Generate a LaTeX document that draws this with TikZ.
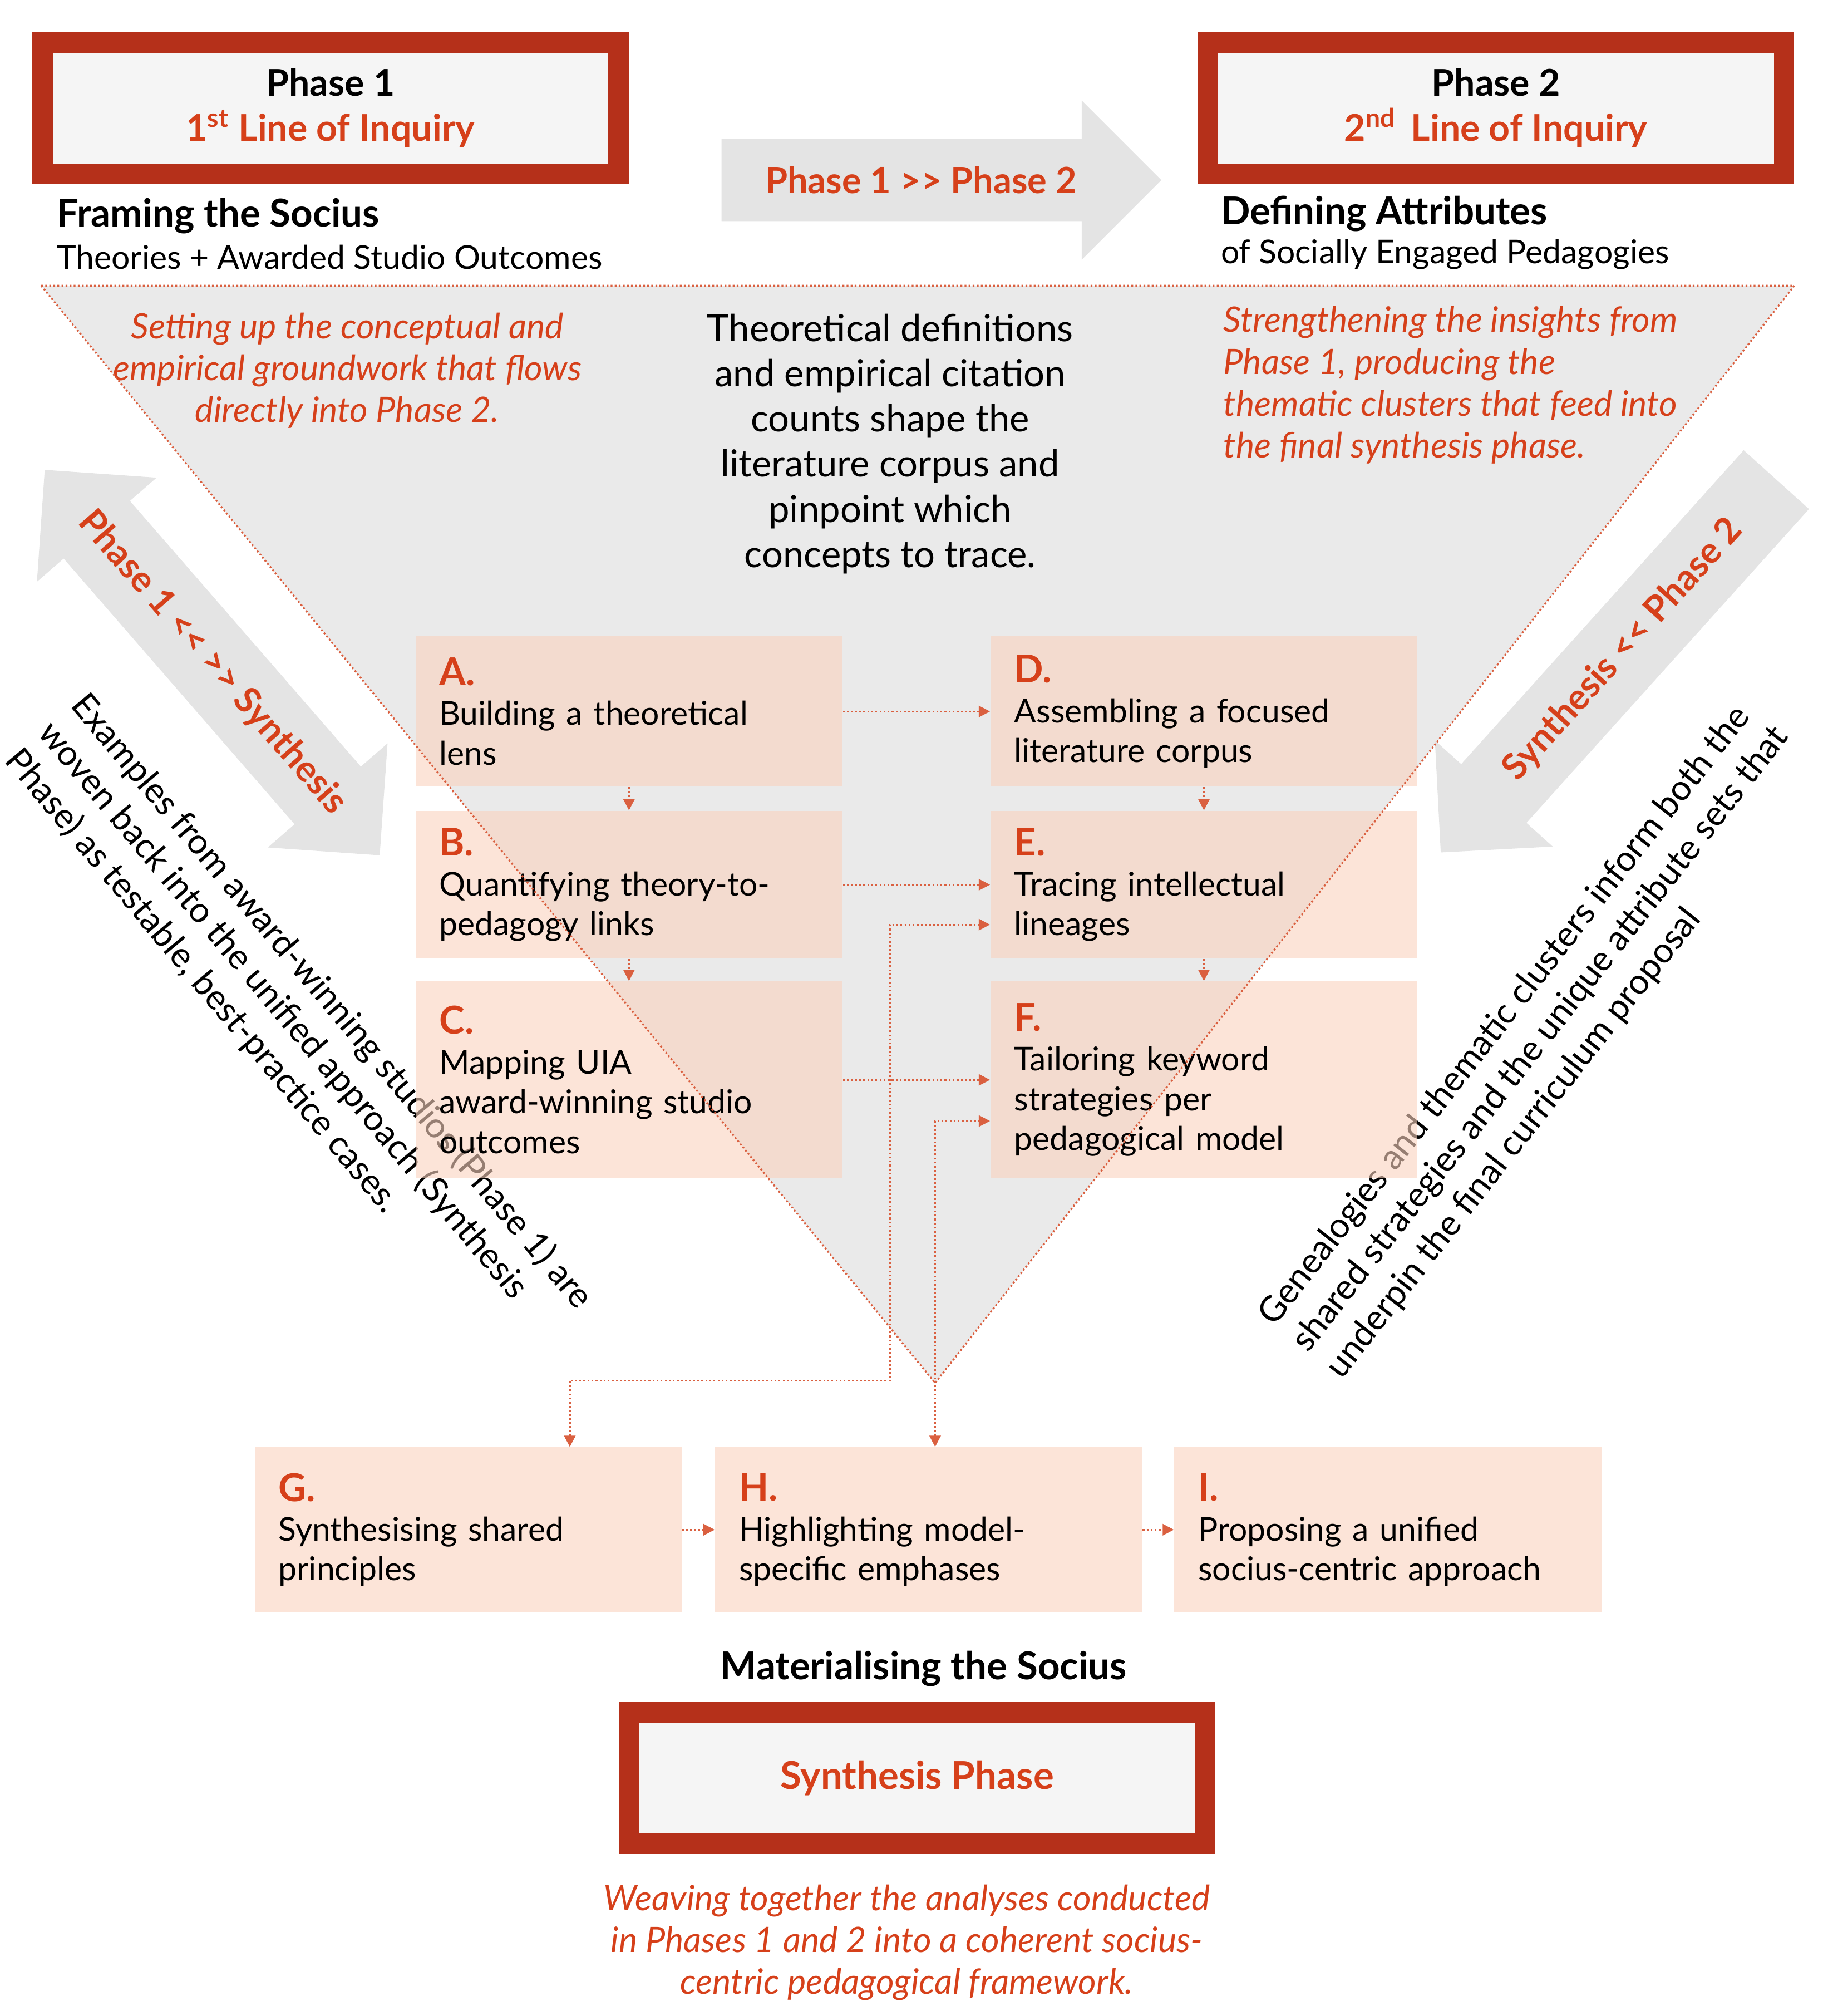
\documentclass[tikz,border=0pt]{standalone}
\usepackage{fontspec}
\setmainfont{Lato}
\usetikzlibrary{positioning,calc,shapes.arrows,arrows.meta}
\definecolor{framered}{RGB}{181,48,26}
\definecolor{inkred}{RGB}{214,64,26}
\definecolor{linkred}{RGB}{218,96,64}
\definecolor{panegray}{RGB}{234,234,234}
\definecolor{arrowgray}{RGB}{228,228,228}
\definecolor{boxpeach}{RGB}{250,210,190}
\tikzset{
>={Triangle[length=5pt,width=5pt]},
every node/.style={font=\fontsize{14.5}{17.6}\selectfont},
phase/.style={draw=framered, line width=9pt, fill=gray!8, minimum width=8.96cm, minimum height=2.04cm, align=center, font=\fontsize{16.3}{20}\selectfont\bfseries},
link/.style={->, linkred, densely dotted, thick},
bigarrow/.style={fill=arrowgray, inner xsep=0pt, inner ysep=0.42cm, text=inkred, font=\fontsize{16}{18}\selectfont\bfseries},
note/.style={text=inkred, align=left, font=\fontsize{15.5}{18.5}\selectfont\itshape},
}

\begin{document}
\begin{tikzpicture}
        [x=0.02cm, y=-0.02cm,
        block/.style={fill=boxpeach, fill opacity=0.6, text opacity=1, minimum width=6.64cm, text width=5.9cm, align=left, inner sep=0pt},
        letter/.style={text=inkred, font=\fontsize{17}{20}\selectfont\bfseries}
        ]
        \useasboundingbox (0,0) rectangle (1421,1567);

        % triangle pane
        \fill[panegray] (32,222) -- (1395,222) -- (727,1075) -- cycle;

        % phase frames
        \node [phase] (p1) at (257,84) {Phase 1\\ \textcolor{inkred}{1\textsuperscript{st} Line of Inquiry}};
        \node [phase] (p2) at (1163,84) {Phase 2\\ \textcolor{inkred}{2\textsuperscript{nd}\, Line of Inquiry}};
        \node [phase, font=\fontsize{17}{20}\selectfont\bfseries] (ps) at (713,1382) {\textcolor{inkred}{Synthesis Phase}};

        % gray arrows
        \node [bigarrow, single arrow, single arrow head extend=0.6cm, single arrow head indent=0pt, minimum height=6.84cm] (fwd) at (716,140) {Phase 1 {>}{>} Phase 2};
        \node [bigarrow, double arrow, double arrow head extend=0.55cm, minimum height=7.94cm, rotate=-49] (loop) at (165,515) {Phase 1 {<}{<} {>}{>} Synthesis};
        \node [bigarrow, single arrow, shape border rotate=180, single arrow head extend=0.55cm, single arrow head indent=0pt, minimum height=7.8cm, rotate=48] (back) at (1262,505) {Synthesis {<}{<} Phase 2};

        % headings
        \node [anchor=west, font=\fontsize{17}{20}\selectfont\bfseries] (frm) at (38,168) {Framing the Socius};
        \node [anchor=west] (frs) at (38,200) {Theories + Awarded Studio Outcomes};
        \node [anchor=west, font=\fontsize{17}{20}\selectfont\bfseries] (def) at (943,166) {Defining Attributes};
        \node [anchor=west] (dfs) at (943,198) {of Socially Engaged Pedagogies};
        \node [font=\fontsize{17}{20}\selectfont\bfseries] (mat) at (718,1297) {Materialising the Socius};

        % notes
        \node [note, align=center] (n1) at (270,288) {Setting up the conceptual and\\ empirical groundwork that flows\\ directly into Phase 2.};
        \node [note, anchor=north west] (n2) at (945,232) {Strengthening the insights from\\ Phase 1, producing the\\ thematic clusters that feed into\\ the final synthesis phase.};
        \node [note, align=center] (n3) at (705,1510) {Weaving together the analyses conducted\\ in Phases 1 and 2 into a coherent socius-\\ centric pedagogical framework.};
        \node [align=center, font=\fontsize{16.5}{20}\selectfont] (mid) at (692,345) {Theoretical definitions\\ and empirical citation\\ counts shape the\\ literature corpus and\\ pinpoint which\\ concepts to trace.};

        % rotated explanations
        \node [rotate=-50, align=left, font=\fontsize{15.5}{19}\selectfont] (lft) at (232,800) {Examples from award-winning studios (Phase 1) are\\ woven back into the unified approach (Synthesis\\ Phase) as testable, best-practice cases.};
        \node [rotate=52, align=left, font=\fontsize{15.5}{19}\selectfont] (rgt) at (1198,808) {Genealogies and thematic clusters inform both the\\ shared strategies and the unique attribute sets that\\ underpin the final curriculum proposal};

        % step boxes
        \node [block, minimum height=2.34cm] (A) at (489,553) {\textcolor{inkred}{\fontsize{17}{20}\selectfont\bfseries A.}\\ Building a theoretical\\ lens};
        \node [block, minimum height=2.3cm, below=0.36cm of A] (B) {\textcolor{inkred}{\fontsize{17}{20}\selectfont\bfseries B.}\\ Quantifying theory-to-\\ pedagogy links};
        \node [block, minimum height=3.06cm, below=0.34cm of B] (C) {\textcolor{inkred}{\fontsize{17}{20}\selectfont\bfseries C.}\\ Mapping UIA\\ award-winning studio\\ outcomes};
        \node [block, minimum height=2.34cm] (D) at (936,553) {\textcolor{inkred}{\fontsize{17}{20}\selectfont\bfseries D.}\\ Assembling a focused\\ literature corpus};
        \node [block, minimum height=2.3cm, below=0.36cm of D] (E) {\textcolor{inkred}{\fontsize{17}{20}\selectfont\bfseries E.}\\ Tracing intellectual\\ lineages};
        \node [block, minimum height=3.06cm, below=0.34cm of E] (F) {\textcolor{inkred}{\fontsize{17}{20}\selectfont\bfseries F.}\\ Tailoring keyword\\ strategies per\\ pedagogical model};
        \node [block, minimum height=2.56cm] (G) at (364,1189) {\textcolor{inkred}{\fontsize{17}{20}\selectfont\bfseries G.}\\ Synthesising shared\\ principles};
        \node [block, minimum height=2.56cm] (H) at (722,1189) {\textcolor{inkred}{\fontsize{17}{20}\selectfont\bfseries H.}\\ Highlighting model-\\ specific emphases};
        \node [block, minimum height=2.56cm] (I) at (1079,1189) {\textcolor{inkred}{\fontsize{17}{20}\selectfont\bfseries I.}\\ Proposing a unified\\ socius-centric approach};

        % triangle border
        \draw [linkred, densely dotted, thick] (32,222) -- (1395,222) -- (727,1075) -- cycle;

        % links
        \draw [link] (A) -- (D);
        \draw [link] (B) -- (E);
        \draw [link] (C) -- (F);
        \draw [link] (A) -- (B);
        \draw [link] (B) -- (C);
        \draw [link] (D) -- (E);
        \draw [link] (E) -- (F);
        \draw [link] (G) -- (H);
        \draw [link] (H) -- (I);
        \draw [link, <->] (G.north -| 443,0) |- (692,1073) |- ($(E.west)+(0,31)$);
        \draw [link, <->] (H.north -| 727,0) |- ($(F.west)+(0,32)$);
\end{tikzpicture}
\end{document}
